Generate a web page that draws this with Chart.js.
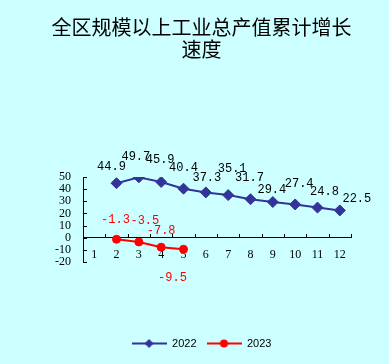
<!DOCTYPE html>
<html>
<head>
<meta charset="utf-8">
<script src="https://cdn.jsdelivr.net/npm/chart.js@4.4.0/dist/chart.umd.min.js"></script>
<style>
  html, body { margin: 0; padding: 0; background: #ccffff; }
</style>
</head>
<body>
<canvas id="growthChart" width="389" height="364"></canvas>
<script>
// months on the x axis
const months = ['1', '2', '3', '4', '5', '6', '7', '8', '9', '10', '11', '12'];
// cumulative growth, %
const growth2022 = [null, 44.9, 49.7, 45.9, 40.4, 37.3, 35.1, 31.7, 29.4, 27.4, 24.8, 22.5];
const growth2023 = [null, -1.3, -3.5, -7.8, -9.5, null, null, null, null, null, null, null];
const yMin = -20;
const yMax = 50;
const yStep = 10;

// where each value label sits relative to its point (px)
const labelOffsets2022 = [null, [-5, -16], [-3, -21], [-1, -22], [0, -21], [1, -15], [4, -26], [-1, -21], [-1, -12], [4, -21], [7, -16], [17, -12]];
const labelOffsets2023 = [null, [-1, -19], [6, -21], [0, -16], [-11, 29]];

const BLUE = '#333399';
const RED = '#ff0000';

function legendIcon(color, shape) {
  const c = document.createElement('canvas');
  c.width = 35;
  c.height = 11;
  const g = c.getContext('2d');
  g.strokeStyle = color;
  g.lineWidth = 2;
  g.beginPath();
  g.moveTo(0, 5.5);
  g.lineTo(35, 5.5);
  g.stroke();
  g.fillStyle = color;
  g.beginPath();
  if (shape === 'diamond') {
    g.moveTo(17.5, 1);
    g.lineTo(22, 5.5);
    g.lineTo(17.5, 10);
    g.lineTo(13, 5.5);
  } else {
    g.arc(17.5, 5.5, 4, 0, Math.PI * 2);
  }
  g.closePath();
  g.fill();
  return c;
}
const legendIcons = [legendIcon(BLUE, 'diamond'), legendIcon(RED, 'circle')];

const background = {
  id: 'background',
  beforeDraw(chart) {
    const ctx = chart.ctx;
    ctx.save();
    ctx.fillStyle = '#ccffff';
    ctx.fillRect(0, 0, chart.width, chart.height);
    ctx.restore();
  }
};

// short inward tick marks like the original
const axisTicks = {
  id: 'axisTicks',
  beforeDatasetsDraw(chart) {
    const ctx = chart.ctx;
    const x = chart.scales.x;
    const y = chart.scales.y;
    const y0 = y.getPixelForValue(0);
    ctx.save();
    ctx.strokeStyle = '#000';
    ctx.lineWidth = 1;
    ctx.beginPath();
    y.ticks.forEach((t) => {
      const py = Math.round(y.getPixelForValue(t.value)) + 0.5;
      ctx.moveTo(y.right, py);
      ctx.lineTo(y.right + 4, py);
    });
    for (let i = 0; i <= months.length; i++) {
      const px = Math.round(x.getPixelForValue(i - 0.5)) + 0.5;
      ctx.moveTo(px, Math.round(y0));
      ctx.lineTo(px, Math.round(y0) - 4);
    }
    ctx.stroke();
    ctx.restore();
  }
};

const valueLabels = {
  id: 'valueLabels',
  afterDatasetsDraw(chart) {
    const ctx = chart.ctx;
    const offsets = [labelOffsets2022, labelOffsets2023];
    const colors = ['#000', RED];
    ctx.save();
    ctx.font = '12px "Liberation Mono"';
    ctx.textAlign = 'center';
    ctx.textBaseline = 'middle';
    chart.data.datasets.forEach((ds, di) => {
      const meta = chart.getDatasetMeta(di);
      ctx.fillStyle = colors[di];
      ds.data.forEach((v, i) => {
        if (v === null || !offsets[di][i]) return;
        const pt = meta.data[i];
        const [dx, dy] = offsets[di][i];
        ctx.fillText(String(v), pt.x + dx, pt.y + dy);
      });
    });
    ctx.restore();
  }
};

new Chart(document.getElementById('growthChart'), {
  type: 'line',
  data: {
    labels: months,
    datasets: [
      {
        label: '2022',
        data: growth2022,
        borderColor: BLUE,
        backgroundColor: BLUE,
        borderWidth: 2,
        pointStyle: 'rectRot',
        pointRadius: 5.5,
        pointBorderWidth: 1,
        tension: 0,
        xAxisID: 'x',
        yAxisID: 'y'
      },
      {
        label: '2023',
        data: growth2023,
        borderColor: RED,
        backgroundColor: RED,
        borderWidth: 2,
        pointStyle: 'circle',
        pointRadius: 4,
        pointBorderWidth: 1,
        tension: 0,
        xAxisID: 'x',
        yAxisID: 'y'
      }
    ]
  },
  options: {
    responsive: false,
    animation: false,
    layout: { padding: { left: 14, right: 0, top: 0, bottom: 5 } },
    plugins: {
      title: {
        display: true,
        text: ['全区规模以上工业总产值累计增长', '速度'],
        color: '#000',
        font: { family: '"Noto Sans CJK SC"', size: 20, weight: 'normal', lineHeight: 1.1 },
        padding: { top: 16, bottom: 117 }
      },
      legend: {
        position: 'bottom',
        labels: {
          usePointStyle: true,
          pointStyleWidth: 35,
          padding: 10,
          color: '#000',
          font: { family: '"Liberation Sans"', size: 11 },
          generateLabels: (chart) => chart.data.datasets.map((ds, i) => ({
            text: ds.label,
            pointStyle: legendIcons[i],
            fillStyle: ds.borderColor,
            strokeStyle: ds.borderColor,
            lineWidth: 0,
            hidden: false,
            datasetIndex: i,
            fontColor: '#000'
          }))
        }
      },
      tooltip: { enabled: false }
    },
    scales: {
      x: {
        type: 'category',
        position: { y: 0 },
        offset: true,
        grid: { display: false, drawTicks: false },
        border: { display: true, color: '#000', width: 1 },
        ticks: {
          color: '#000',
          padding: 10,
          maxRotation: 0,
          autoSkip: false,
          font: { family: '"Liberation Serif"', size: 12 }
        }
      },
      y: {
        min: yMin,
        max: yMax,
        position: 'left',
        grid: { display: false, drawTicks: false },
        border: { display: true, color: '#000', width: 1 },
        ticks: {
          stepSize: yStep,
          autoSkip: false,
          color: '#000',
          padding: 12,
          font: { family: '"Liberation Serif"', size: 12 }
        },
        afterFit: (s) => { s.width = 69; }
      },
      // empty boxes that keep the plot where the original has it
      pad: {
        type: 'linear',
        position: 'bottom',
        grid: { display: false },
        border: { display: false },
        ticks: { display: false },
        afterFit: (s) => { s.height = 66; }
      },
      padRight: {
        type: 'linear',
        position: 'right',
        grid: { display: false },
        border: { display: false },
        ticks: { display: false },
        afterFit: (s) => { s.width = 38; }
      }
    }
  },
  plugins: [background, axisTicks, valueLabels]
});
</script>
</body>
</html>
